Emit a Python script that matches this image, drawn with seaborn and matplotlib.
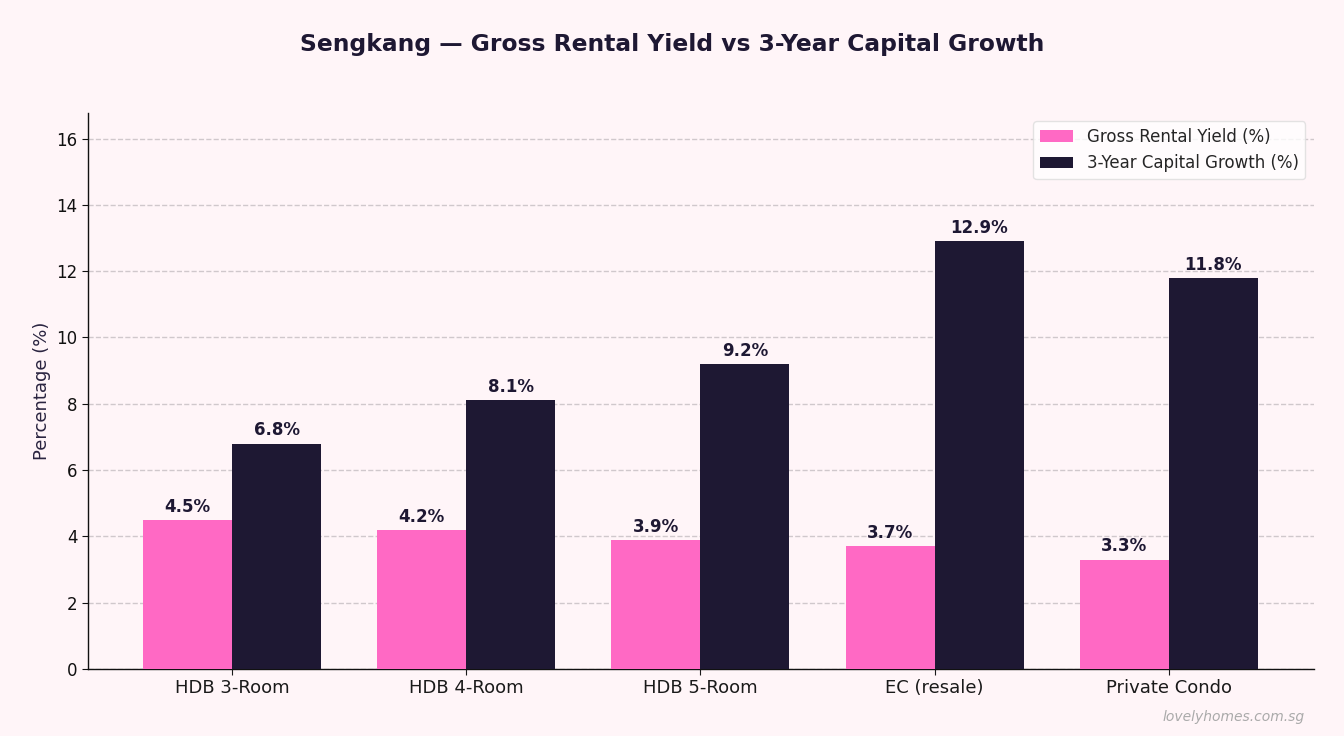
import numpy as np
import pandas as pd
import matplotlib
matplotlib.use("Agg")
import matplotlib.pyplot as plt
import seaborn as sns

categories = ["HDB 3-Room", "HDB 4-Room", "HDB 5-Room", "EC (resale)", "Private Condo"]
rental_yield = [4.5, 4.2, 3.9, 3.7, 3.3]
capital_growth = [6.8, 8.1, 9.2, 12.9, 11.8]
series_names = ["Gross Rental Yield (%)", "3-Year Capital Growth (%)"]

bg = "#fff5f8"
pink = "#ff69c4"
dark = "#1e1833"

df = pd.DataFrame({
    "category": categories * 2,
    "value": rental_yield + capital_growth,
    "series": [series_names[0]] * len(categories) + [series_names[1]] * len(categories),
})

sns.set_style("white")
plt.rcParams["font.family"] = ["DejaVu Sans"]

fig = plt.figure(figsize=(13.44, 7.36), dpi=100, facecolor=bg)
ax = fig.add_axes([0.0655, 0.091, 0.912, 0.7555])
ax.set_facecolor(bg)

sns.barplot(data=df, x="category", y="value", hue="series", order=categories,
            hue_order=series_names, palette=[pink, dark], width=0.76,
            saturation=1, linewidth=0, edgecolor="none", ax=ax, zorder=3)

for cont in ax.containers:
    ax.bar_label(cont, labels=[f"{v:.1f}%" for v in cont.datavalues], padding=3,
                 fontsize=12, fontweight="bold", color=dark)

ax.set_xlim(-0.615, 4.619)
ax.set_ylim(0, max(capital_growth) * 1.3)
ax.set_yticks(np.arange(0, 17, 2))
ax.yaxis.grid(True, linestyle="--", color="#d0c8cc", linewidth=1, zorder=0)
ax.set_axisbelow(True)
ax.set_xlabel("")
ax.set_ylabel("Percentage (%)", fontsize=13, color="#2a2440")
ax.tick_params(axis="x", labelsize=13, length=4, colors="#1a1a1a", bottom=True)
ax.tick_params(axis="y", labelsize=12, length=4, left=True, colors="#111111")
for s in ["top", "right"]:
    ax.spines[s].set_visible(False)
for s in ["left", "bottom"]:
    ax.spines[s].set_color("#111111")
    ax.spines[s].set_linewidth(1)

ax.legend(loc="upper right", fontsize=12, frameon=True, facecolor="white",
          edgecolor="#dddddd", title=None)

fig.suptitle("Sengkang — Gross Rental Yield vs 3-Year Capital Growth",
             fontsize=16.8, fontweight="bold", color=dark, y=0.955)
fig.text(0.971, 0.016, "lovelyhomes.com.sg", ha="right", va="bottom",
         fontsize=10, style="italic", color="#aaaaaa")

fig.savefig("out.png", dpi=100, facecolor=bg)
